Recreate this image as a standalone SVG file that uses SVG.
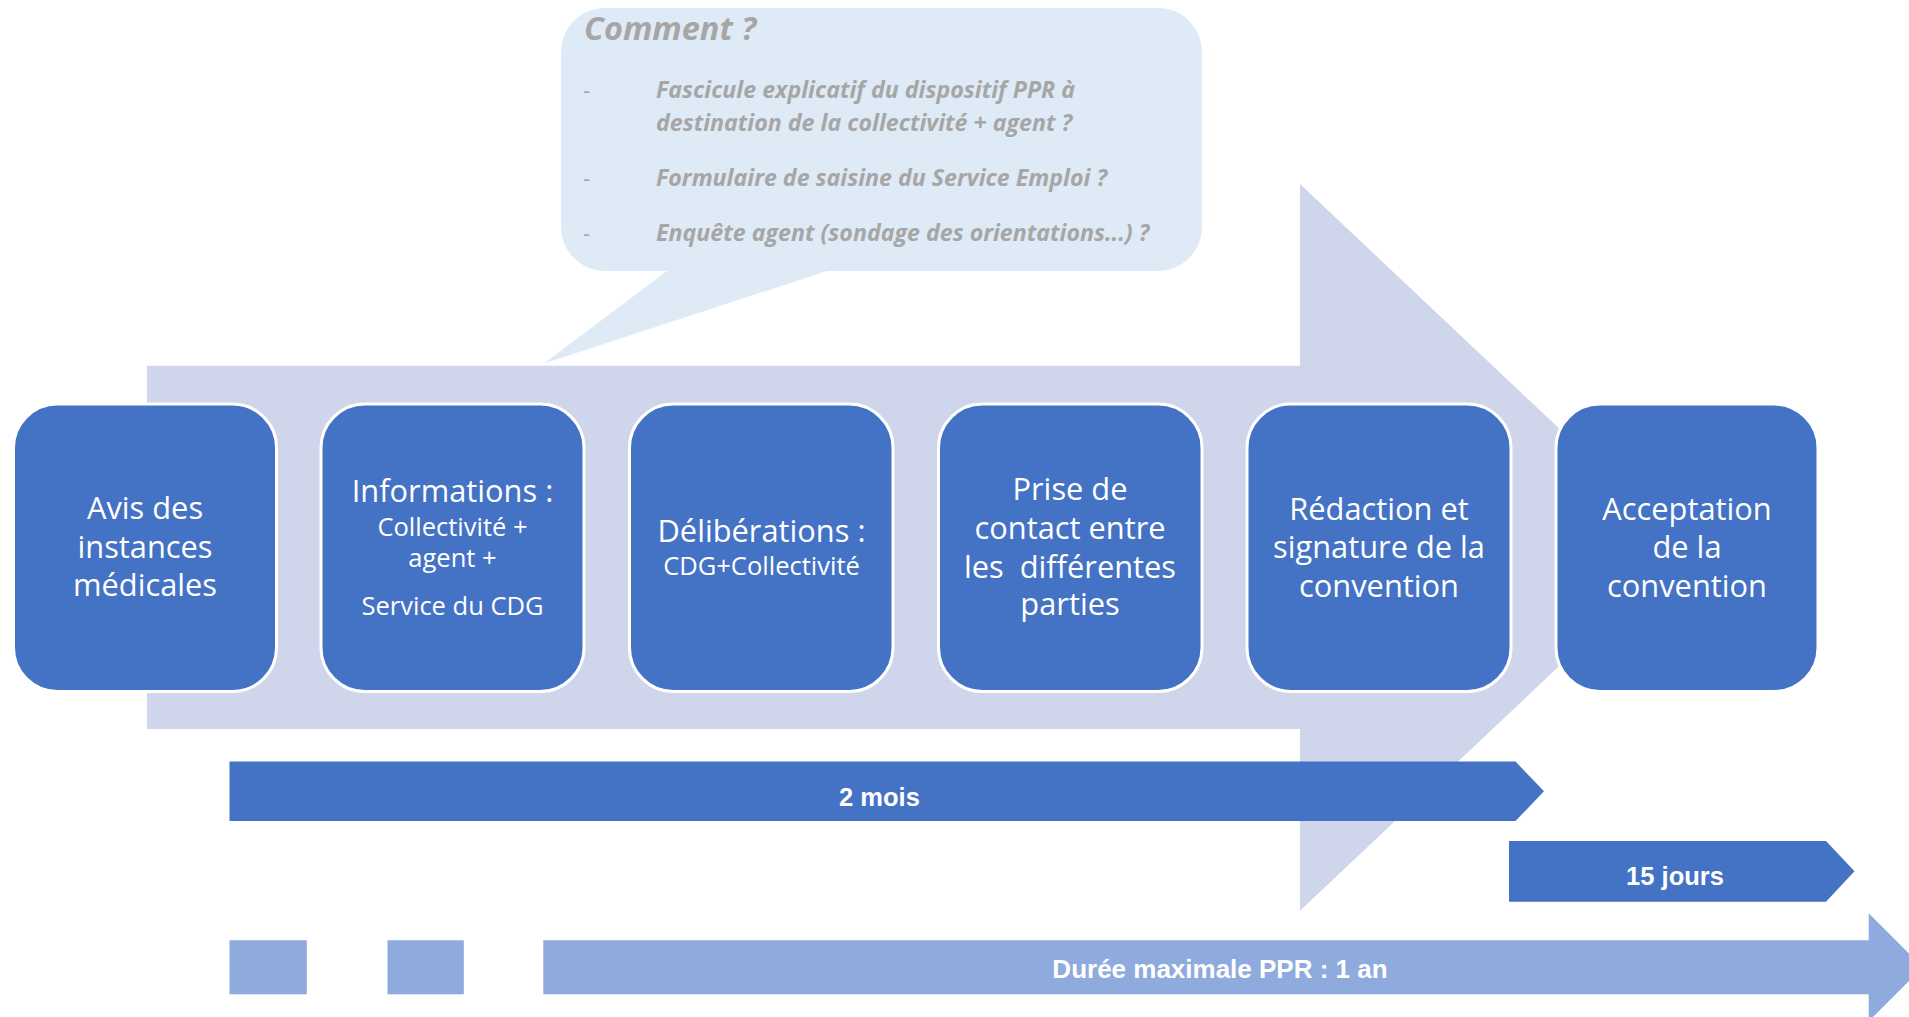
<svg xmlns="http://www.w3.org/2000/svg" width="1909" height="1017" viewBox="0 0 1909 1017">
<style>
.box{fill:#4472C4;stroke:#FFFFFF;stroke-width:3}
.bt{font-family:"Open Sans","Noto Sans",sans-serif;fill:#FFFFFF;text-anchor:middle;font-size:30.8px}
.bs{font-size:25.5px}
.ct{font-family:"Open Sans","Noto Sans",sans-serif;font-weight:bold;font-style:italic;fill:#A6A6A6;font-size:23.2px}
.dash{font-family:"Open Sans","Noto Sans",sans-serif;fill:#A6A6A6;font-size:22px}
.lt{font-family:"Liberation Sans",Arial,sans-serif;font-weight:bold;fill:#FFFFFF;text-anchor:middle}
</style>
<rect width="1909" height="1017" fill="#FFFFFF"/>
<g id="process-arrow">
<path d="M147,365.7 H1300 V184 L1685,547.3 L1300,910.7 V729 H147 Z" fill="#CFD5EA"/>
</g>
<g id="callout">
<path d="M605,8 H1158 A44,44 0 0 1 1202,52 V227 A44,44 0 0 1 1158,271 H827 L544,363.5 L667,271 H605 A44,44 0 0 1 561,227 V52 A44,44 0 0 1 605,8 Z" fill="#DEEAF6"/>
<text class="ct" x="584" y="39.5" style="font-size:32.5px">Comment ?</text>
<text class="dash" x="583" y="98">-</text>
<text class="ct" x="656" y="98">Fascicule explicatif du dispositif PPR à</text>
<text class="ct" x="656" y="130.5">destination de la collectivité + agent ?</text>
<text class="dash" x="583" y="185.5">-</text>
<text class="ct" x="656" y="185.5">Formulaire de saisine du Service Emploi ?</text>
<text class="dash" x="583" y="240.5">-</text>
<text class="ct" x="656" y="240.5">Enquête agent (sondage des orientations...) ?</text>
</g>
<g id="node-avis">
<rect class="box" x="13.5" y="404" width="263" height="287.5" rx="44"/>
<text class="bt" x="145" y="519">Avis des</text>
<text class="bt" x="145" y="557.5">instances</text>
<text class="bt" x="145" y="596">médicales</text>
</g>
<g id="node-informations">
<rect class="box" x="321" y="404" width="263" height="287.5" rx="44"/>
<text class="bt" x="452.5" y="502">Informations :</text>
<text class="bt bs" x="452.5" y="535.5">Collectivité +</text>
<text class="bt bs" x="452.5" y="566.5">agent +</text>
<text class="bt bs" x="452.5" y="615">Service du CDG</text>
</g>
<g id="node-deliberations">
<rect class="box" x="629.5" y="404" width="263.5" height="287.5" rx="44"/>
<text class="bt" x="761.5" y="542">Délibérations :</text>
<text class="bt bs" x="761.5" y="575">CDG+Collectivité</text>
</g>
<g id="node-contact">
<rect class="box" x="938.5" y="404" width="263.5" height="287.5" rx="44"/>
<text class="bt" x="1070" y="499.5">Prise de</text>
<text class="bt" x="1070" y="538.5">contact entre</text>
<text class="bt" x="1070" y="577.5" xml:space="preserve">les  différentes</text>
<text class="bt" x="1070" y="615">parties</text>
</g>
<g id="node-redaction">
<rect class="box" x="1247" y="404" width="264" height="287.5" rx="44"/>
<text class="bt" x="1379" y="520">Rédaction et</text>
<text class="bt" x="1379" y="558">signature de la</text>
<text class="bt" x="1379" y="596.5">convention</text>
</g>
<g id="node-acceptation">
<rect class="box" x="1556" y="404" width="262" height="287.5" rx="44"/>
<text class="bt" x="1687" y="520">Acceptation</text>
<text class="bt" x="1687" y="558">de la</text>
<text class="bt" x="1687" y="596.5">convention</text>
</g>
<g id="bar-2-mois">
<path d="M229.5,761.5 H1515.5 L1544,791.3 L1515.5,821 H229.5 Z" fill="#4472C4"/>
<text class="lt" x="879.5" y="805.5" style="font-size:25.5px">2 mois</text>
</g>
<g id="bar-15-jours">
<path d="M1509,841 H1826 L1854.5,871.3 L1826,901.7 H1509 Z" fill="#4472C4"/>
<text class="lt" x="1675" y="885" style="font-size:25.5px">15 jours</text>
</g>
<g id="bar-duree">
<rect x="229.5" y="940.3" width="77.3" height="54" fill="#8FAADC"/>
<rect x="387.5" y="940.3" width="76.3" height="54" fill="#8FAADC"/>
<path d="M543.3,940.3 H1868.7 V913.3 L1922.7,967.3 L1868.7,1021.3 V994.3 H543.3 Z" fill="#8FAADC"/>
<text class="lt" x="1220" y="977.5" style="font-size:26px">Durée maximale PPR : 1 an</text>
</g>
</svg>
